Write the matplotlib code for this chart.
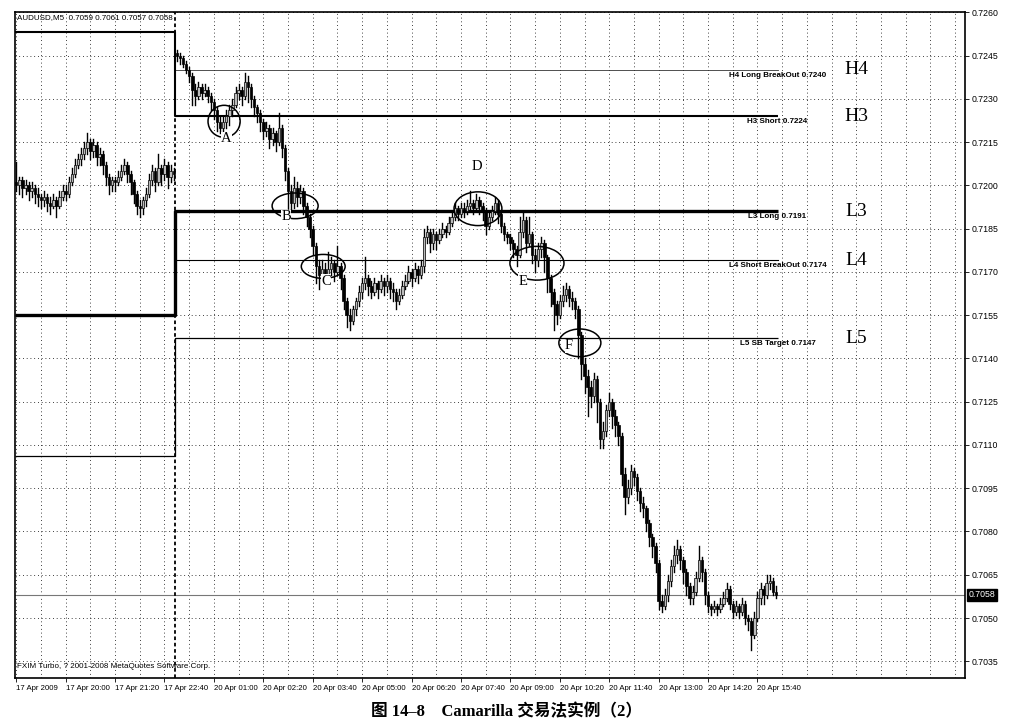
import matplotlib
matplotlib.use('Agg')
import matplotlib.pyplot as plt
from matplotlib.patches import Ellipse

HEADER = 'AUDUSD,M5  0.7059 0.7061 0.7057 0.7058'
COPYRIGHT = 'FXIM Turbo, ? 2001-2008 MetaQuotes Software Corp.'
CAPTION = '图 14–8　Camarilla 交易法实例（2）'

# 5 minute bars, prices in pips (x 0.0001). open = previous close
closes = [
    7200, 7202, 7199, 7200, 7198, 7199, 7197, 7196, 7195, 7196,
    7194, 7193, 7195, 7193, 7196, 7198, 7197, 7201, 7204, 7207,
    7209, 7211, 7213, 7215, 7212, 7214, 7210, 7211, 7207, 7203,
    7200, 7202, 7201, 7203, 7205, 7207, 7204, 7201, 7197, 7193,
    7192, 7195, 7197, 7202, 7205, 7201, 7206, 7204, 7207, 7203,
    7205, 7204,
    7245, 7244, 7242, 7240, 7238, 7233, 7231, 7234,
    7232, 7233, 7231, 7229, 7226, 7222, 7220, 7222, 7224, 7226,
    7228, 7232, 7233, 7231, 7236, 7234, 7230, 7227, 7225, 7222,
    7219, 7220, 7216, 7218, 7215, 7220, 7213, 7205, 7198, 7194,
    7199, 7196, 7198, 7193, 7189, 7185, 7179, 7172, 7169, 7171,
    7168, 7171, 7173, 7170, 7172, 7168, 7160, 7155, 7153, 7157,
    7160, 7163, 7166, 7168, 7165, 7163, 7166, 7164, 7167, 7165,
    7167, 7164, 7163, 7160, 7162, 7165, 7167, 7170, 7168, 7171,
    7169, 7172, 7182, 7184, 7180, 7183, 7181, 7183, 7185, 7184,
    7187, 7189, 7192, 7190, 7192, 7191, 7193, 7194, 7192, 7195,
    7193, 7191, 7186, 7189, 7191, 7194, 7190, 7186, 7183, 7182,
    7180, 7178, 7176, 7184, 7188, 7180, 7183, 7176, 7174, 7178,
    7180, 7175, 7168, 7163, 7159, 7155, 7160, 7162, 7164, 7161,
    7160, 7157, 7148, 7138, 7134, 7130, 7127, 7133, 7125, 7112,
    7115, 7122, 7125, 7120, 7117, 7113, 7100, 7092, 7095, 7101,
    7099, 7094, 7090, 7088, 7083, 7078, 7075, 7069, 7056, 7054,
    7058, 7063, 7068, 7072, 7074, 7070, 7066, 7061, 7057, 7059,
    7064, 7070, 7066, 7058, 7054, 7053, 7054, 7053, 7055, 7057,
    7060, 7055, 7052, 7054, 7052, 7055, 7050, 7049, 7044, 7050,
    7057, 7060, 7058, 7062, 7063, 7059, 7058,
]
highs = [
    7208, 7203, 7203, 7202, 7201, 7201, 7200, 7199, 7197, 7198,
    7197, 7196, 7197, 7196, 7198, 7200, 7200, 7203, 7206, 7209,
    7211, 7213, 7215, 7218, 7216, 7216, 7215, 7213, 7212, 7208,
    7204, 7203, 7203, 7205, 7207, 7209, 7208, 7205, 7202, 7198,
    7195, 7196, 7199, 7204, 7207, 7206, 7211, 7207, 7209, 7208,
    7207, 7206,
    7247, 7246, 7245, 7243, 7241, 7239, 7235, 7236,
    7235, 7235, 7234, 7232, 7230, 7227, 7224, 7224, 7226, 7228,
    7230, 7234, 7235, 7234, 7239, 7238, 7235, 7231, 7228, 7226,
    7223, 7222, 7221, 7220, 7219, 7225, 7221, 7214, 7206, 7200,
    7203, 7201, 7200, 7199, 7194, 7190, 7186, 7180, 7174, 7174,
    7173, 7177, 7175, 7174, 7179, 7173, 7169, 7161, 7157, 7158,
    7161, 7165, 7168, 7175, 7169, 7167, 7168, 7167, 7169, 7168,
    7169, 7168, 7166, 7164, 7164, 7167, 7169, 7172, 7171, 7173,
    7172, 7174, 7185, 7186, 7185, 7185, 7184, 7185, 7187, 7186,
    7189, 7191, 7194, 7193, 7194, 7194, 7195, 7198, 7195, 7197,
    7196, 7194, 7192, 7191, 7193, 7196, 7195, 7191, 7187, 7184,
    7183, 7181, 7179, 7189, 7191, 7189, 7189, 7184, 7178, 7180,
    7182, 7181, 7176, 7169, 7164, 7160, 7162, 7165, 7166, 7165,
    7163, 7161, 7158, 7149, 7140, 7136, 7132, 7135, 7134, 7126,
    7118, 7124, 7128, 7126, 7122, 7118, 7114, 7102, 7098, 7103,
    7102, 7100, 7095, 7092, 7089, 7084, 7079, 7076, 7070, 7058,
    7060, 7065, 7070, 7075, 7077, 7075, 7071, 7067, 7062, 7061,
    7066, 7075, 7071, 7067, 7059, 7055, 7056, 7055, 7057, 7059,
    7062, 7061, 7056, 7056, 7055, 7057, 7056, 7051, 7050, 7052,
    7059, 7062, 7061, 7065, 7065, 7064, 7061,
]
lows = [
    7198, 7197, 7196, 7197, 7195, 7196, 7194, 7193, 7192, 7193,
    7191, 7190, 7192, 7189, 7192, 7195, 7195, 7196, 7200, 7203,
    7206, 7207, 7209, 7211, 7209, 7210, 7207, 7207, 7204, 7200,
    7197, 7198, 7198, 7200, 7202, 7204, 7201, 7197, 7194, 7190,
    7189, 7190, 7193, 7196, 7200, 7198, 7200, 7200, 7202, 7199,
    7201, 7202,
    7243, 7242, 7241, 7239, 7236, 7228, 7228, 7230,
    7230, 7231, 7229, 7226, 7223, 7219, 7218, 7218, 7220, 7221,
    7224, 7227, 7230, 7228, 7230, 7229, 7227, 7224, 7222, 7219,
    7216, 7217, 7213, 7214, 7212, 7214, 7210, 7202, 7192, 7191,
    7192, 7193, 7194, 7190, 7186, 7182, 7176, 7166, 7164, 7166,
    7165, 7167, 7169, 7167, 7169, 7164, 7157, 7151, 7150, 7152,
    7155, 7158, 7161, 7164, 7162, 7161, 7162, 7161, 7163, 7162,
    7163, 7161, 7160, 7157, 7159, 7161, 7164, 7166, 7165, 7167,
    7166, 7168, 7170, 7180, 7177, 7178, 7178, 7180, 7182, 7182,
    7183, 7186, 7188, 7188, 7189, 7189, 7190, 7191, 7190, 7191,
    7190, 7188, 7183, 7185, 7188, 7190, 7187, 7184, 7181, 7180,
    7178, 7175, 7172, 7175, 7182, 7177, 7179, 7173, 7170, 7172,
    7175, 7170, 7163, 7158, 7150, 7152, 7154, 7158, 7160, 7158,
    7157, 7154, 7140, 7133, 7128, 7120, 7123, 7125, 7118, 7109,
    7109, 7113, 7120, 7116, 7113, 7110, 7096, 7086, 7090, 7093,
    7096, 7091, 7087, 7085, 7080, 7075, 7071, 7066, 7053, 7052,
    7053, 7056, 7061, 7066, 7069, 7067, 7062, 7058, 7055, 7055,
    7058, 7063, 7063, 7055, 7052, 7051, 7052, 7051, 7052, 7054,
    7056, 7053, 7050, 7051, 7050, 7051, 7048, 7046, 7039, 7043,
    7049, 7055, 7055, 7057, 7060, 7058, 7057,
]
# sessions: Fri 17 Apr starts at bar 0, Mon 20 Apr starts at bar 52
session_starts = [0, 52]
session_opens = [7201, 7246]

time_ticks = [0, 16, 32, 48, 64, 80, 96, 112, 128, 144, 160, 176, 192,
              208, 224, 240]
time_labels = ['17 Apr 2009', '17 Apr 20:00', '17 Apr 21:20', '17 Apr 22:40',
               '20 Apr 01:00', '20 Apr 02:20', '20 Apr 03:40', '20 Apr 05:00',
               '20 Apr 06:20', '20 Apr 07:40', '20 Apr 09:00', '20 Apr 10:20',
               '20 Apr 11:40', '20 Apr 13:00', '20 Apr 14:20', '20 Apr 15:40']
price_ticks = [0.7035, 0.7050, 0.7065, 0.7080, 0.7095, 0.7110, 0.7125,
               0.7140, 0.7155, 0.7170, 0.7185, 0.7200, 0.7215, 0.7230,
               0.7245, 0.7260]
last_price = 0.7058

# camarilla levels: previous day, current day, label text
level_names = ['H4', 'H3', 'L3', 'L4', 'L5']
level_prev = [None, 0.7253, 0.7155, None, 0.7106]
level_cur = [0.7240, 0.7224, 0.7191, 0.7174, 0.7147]
level_text = ['H4 Long BreakOut 0.7240', 'H3 Short 0.7224', 'L3 Long 0.7191',
              'L4 Short BreakOut 0.7174', 'L5 SB Target 0.7147']
level_width = [0.6, 1.5, 2.4, 0.8, 0.9]

# marked areas: letter, ellipse centre (bar, price), size, letter position
mark_letters = ['A', 'B', 'C', 'D', 'E', 'F']
mark_centres = [(67.3, 0.72222), (90.3, 0.71929), (99.4, 0.71719),
                (149.5, 0.71919), (168.6, 0.71730), (182.5, 0.71454)]
mark_sizes = [(10.4, 0.00111), (14.9, 0.00089), (14.2, 0.00083),
              (15.5, 0.00117), (17.5, 0.00117), (13.6, 0.00096)]
mark_text_pos = [(68.0, 0.72163), (87.4, 0.71891), (100.3, 0.71668),
                 (149.2, 0.72067), (164.0, 0.71668), (179.0, 0.71444)]


def draw_bars(ax):
    n = len(closes)
    opens = []
    for i in range(n):
        if i in session_starts:
            opens.append(session_opens[session_starts.index(i)])
        else:
            opens.append(closes[i - 1])
    for i in range(n):
        o, c = opens[i] / 1e4, closes[i] / 1e4
        h = max(highs[i] / 1e4, o, c)
        l = min(lows[i] / 1e4, o, c)
        ax.plot([i, i], [l, h], color='black', lw=1.0, zorder=3)
        body = max(abs(c - o), 0.00003)
        face = 'black' if c < o else '#bbbbbb'
        ax.bar(i, body, bottom=min(o, c), width=0.8, color=face,
               edgecolor='black', linewidth=0.5, zorder=4)


def draw_levels(ax):
    sep = session_starts[1] - 0.5
    end = len(closes) - 0.5
    x0 = -0.5
    for k, name in enumerate(level_names):
        lw = level_width[k]
        col = '#333333' if name == 'H4' else 'black'
        if level_prev[k] is not None:
            ax.plot([x0, sep, sep, end],
                    [level_prev[k], level_prev[k], level_cur[k], level_cur[k]],
                    color=col, lw=lw, zorder=2, solid_capstyle='butt')
        else:
            ax.plot([sep, end], [level_cur[k], level_cur[k]], color=col,
                    lw=lw, zorder=2)
        ax.annotate(level_text[k], (end, level_cur[k]), xytext=(0, -1.5),
                    textcoords='offset points', ha='center', va='top',
                    fontsize=5.8, family='Liberation Sans', color='black',
                    fontweight='bold')
        ax.text(272, level_cur[k], name, ha='center', va='center',
                fontsize=14, family='Liberation Serif', color='black')
    ax.axvline(sep, color='black', lw=1.3, ls=(0, (2, 1.5)), zorder=2)


def draw_marks(ax):
    for k, letter in enumerate(mark_letters):
        cx, cy = mark_centres[k]
        w, h = mark_sizes[k]
        ax.add_patch(Ellipse((cx, cy), w, h, fill=False, edgecolor='black',
                             lw=1.1, zorder=5))
        tx, ty = mark_text_pos[k]
        ax.text(tx, ty, letter, ha='center', va='center', fontsize=10.5,
                family='Liberation Serif', zorder=6,
                bbox=dict(boxstyle='square,pad=0.02', fc='white', ec='none'))


def main():
    fig = plt.figure(figsize=(10.2, 7.27), dpi=100)
    ax = fig.add_axes([15 / 1020, 1 - 678 / 727, 950 / 1020, 666 / 727])
    ax.set_xlim(-0.4, 307.2)
    ax.set_ylim(0.70292, 0.72601)

    # grid
    for gx in range(0, 308, 8):
        ax.axvline(gx, color='black', lw=0.6, ls=(0, (1, 3.5)), zorder=1)
    for gy in price_ticks:
        ax.axhline(gy, color='black', lw=0.6, ls=(0, (1, 3.5)), zorder=1)
    ax.axhline(last_price, color='#777777', lw=0.8, zorder=1)

    draw_levels(ax)
    draw_bars(ax)
    draw_marks(ax)

    ax.yaxis.tick_right()
    ax.set_yticks(price_ticks)
    ax.set_yticklabels([f'{p:.4f}' for p in price_ticks],
                       fontsize=6.3, family='Liberation Sans')
    ax.set_xticks(time_ticks)
    ax.set_xticklabels(time_labels, fontsize=5.6, family='Liberation Sans')
    for lbl in ax.get_xticklabels():
        lbl.set_ha('left')
    ax.tick_params(axis='both', length=3, width=0.6, pad=2)
    for sp in ax.spines.values():
        sp.set_linewidth(1.2)

    ax.text(1.004, last_price, f'{last_price:.4f}',
            transform=ax.get_yaxis_transform(), ha='left', va='center',
            fontsize=6.3, family='Liberation Sans', color='white',
            bbox=dict(boxstyle='square,pad=0.15', fc='black', ec='black'))

    ax.text(0.002, 0.997, HEADER, transform=ax.transAxes, ha='left', va='top',
            fontsize=5.8, family='Liberation Sans')
    ax.text(0.002, 0.012, COPYRIGHT, transform=ax.transAxes, ha='left',
            va='bottom', fontsize=5.8, family='Liberation Sans')

    fig.text(507 / 1020, 1 - 712 / 727, CAPTION, ha='center', va='center',
             fontsize=12, fontweight='bold',
             family=['Liberation Serif', 'Noto Sans CJK SC'])

    fig.savefig('out.png', dpi=100)


if __name__ == '__main__':
    main()
